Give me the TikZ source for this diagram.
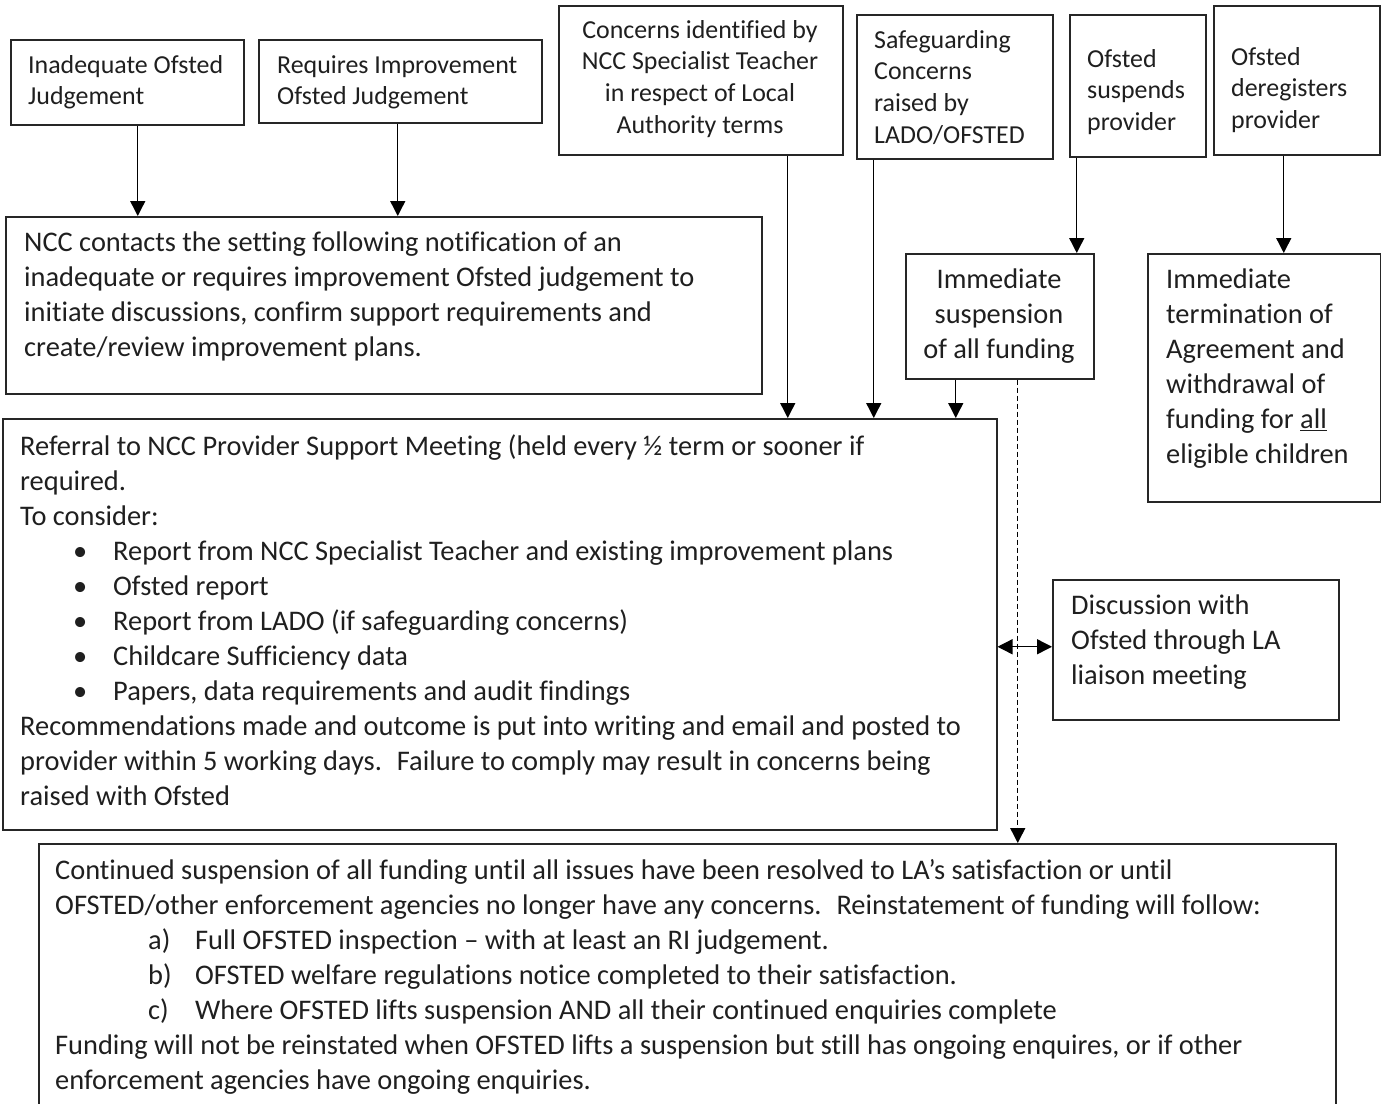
\documentclass[tikz,border=0pt]{standalone}
\usepackage{fontspec}
\setmainfont{Carlito}[Ligatures=NoCommon]
\usetikzlibrary{arrows.meta,calc}
\begin{document}
\begin{tikzpicture}[x=1pt,y=-1pt,
  box/.style={draw=black!85, line width=1.5pt, anchor=north west, inner sep=0pt},
  sm/.style={font=\fontsize{25.9}{31.7}\selectfont, inner sep=0pt, align=left, anchor=north west, text=black!88},
  mn/.style={font=\fontsize{28.4}{35}\selectfont, inner sep=0pt, align=left, anchor=north west, text=black!88},
  arr/.style={line width=1.4pt, draw=black, -{Triangle[length=15pt,width=15pt]}},
  darr/.style={line width=1.4pt, draw=black, {Triangle[length=15pt,width=15pt]}-{Triangle[length=15pt,width=15pt]}},
  dasharr/.style={line width=1.4pt, draw=black, dash pattern=on 5pt off 3pt, -{Triangle[length=15pt,width=15pt]}},
]
\clip (0,0) rectangle (1381,1103);
\fill[white] (0,0) rectangle (1381,1103);

% boxes
\node[box, minimum width=233pt, minimum height=85pt]  (b1)  at (10,39) {};
\node[box, minimum width=283pt, minimum height=83pt]  (b2)  at (258,39) {};
\node[box, minimum width=284pt, minimum height=149pt] (b3)  at (558,5) {};
\node[box, minimum width=196pt, minimum height=144pt] (b4)  at (856,14) {};
\node[box, minimum width=136pt, minimum height=142pt] (b5)  at (1069,14) {};
\node[box, minimum width=166pt, minimum height=149pt] (b6)  at (1213,5) {};
\node[box, minimum width=756pt, minimum height=177pt] (b7)  at (5,216) {};
\node[box, minimum width=188pt, minimum height=125pt] (b8)  at (905,253) {};
\node[box, minimum width=233pt, minimum height=248pt] (b9)  at (1147,253) {};
\node[box, minimum width=994pt, minimum height=411pt] (b10) at (2,418) {};
\node[box, minimum width=286pt, minimum height=140pt] (b11) at (1052,579) {};
\node[box, minimum width=1297pt, minimum height=300pt] (b12) at (38,843) {};

% texts
\node[sm] (t1) at (28,55) {Inadequate Ofsted\\Judgement};
\node[sm] (t2) at (277,55) {Requires Improvement\\Ofsted Judgement};
\node[sm, align=center, anchor=north] (t3) at (700,20) {Concerns identified by\\NCC Specialist Teacher\\in respect of Local\\Authority terms};
\node[sm] (t4) at (874,30) {Safeguarding\\Concerns\\raised by\\LADO/OFSTED};
\node[sm] (t5) at (1087,49) {Ofsted\\suspends\\provider};
\node[sm] (t6) at (1231,47) {Ofsted\\deregisters\\provider};
\node[mn] (t7) at (24,232) {NCC contacts the setting following notification of an\\inadequate or requires improvement Ofsted judgement to\\initiate discussions, confirm support requirements and\\create/review improvement plans.};
\node[mn, align=center, anchor=north] (t8) at (999,269) {Immediate\\suspension\\of all funding};
\node[mn] (t9) at (1166,269) {Immediate\\termination of\\Agreement and\\withdrawal of\\funding for \underline{all}\\eligible children};
\node[mn] (t10) at (20,435) {Referral to NCC Provider Support Meeting (held every ½ term or sooner if\\required.\\To consider:\\
\hspace*{53pt}\makebox[40pt][l]{\textbullet}Report from NCC Specialist Teacher and existing improvement plans\\
\hspace*{53pt}\makebox[40pt][l]{\textbullet}Ofsted report\\
\hspace*{53pt}\makebox[40pt][l]{\textbullet}Report from LADO (if safeguarding concerns)\\
\hspace*{53pt}\makebox[40pt][l]{\textbullet}Childcare Sufficiency data\\
\hspace*{53pt}\makebox[40pt][l]{\textbullet}Papers, data requirements and audit findings\\
Recommendations made and outcome is put into writing and email and posted to\\provider within 5 working days.~ Failure to comply may result in concerns being\\raised with Ofsted};
\node[mn] (t11) at (1071,595) {Discussion with\\Ofsted through LA\\liaison meeting};
\node[mn] (t12) at (55,859) {Continued suspension of all funding until all issues have been resolved to LA’s satisfaction or until\\OFSTED/other enforcement agencies no longer have any concerns.~ Reinstatement of funding will follow:\\
\hspace*{93pt}\makebox[47pt][l]{a)}Full OFSTED inspection -- with at least an RI judgement.\\
\hspace*{93pt}\makebox[47pt][l]{b)}OFSTED welfare regulations notice completed to their satisfaction.\\
\hspace*{93pt}\makebox[47pt][l]{c)}Where OFSTED lifts suspension AND all their continued enquiries complete\\
Funding will not be reinstated when OFSTED lifts a suspension but still has ongoing enquires, or if other\\enforcement agencies have ongoing enquiries.};

% connectors
\draw[arr] ([xshift=10.5pt]b1.south) -- ([xshift=10.5pt]b1.south |- b7.north);
\draw[arr] ([xshift=-2.5pt]b2.south) -- ([xshift=-2.5pt]b2.south |- b7.north);
\draw[arr] ([xshift=87pt]b3.south) -- ([xshift=87pt]b3.south |- b10.north);
\draw[arr] ([xshift=-81pt]b4.south) -- ([xshift=-81pt]b4.south |- b10.north);
\draw[arr] ([xshift=-61pt]b5.south) -- ([xshift=-61pt]b5.south |- b8.north);
\draw[arr] ([xshift=-13pt]b6.south) -- ([xshift=-13pt]b6.south |- b9.north);
\draw[arr] ([xshift=-44pt]b8.south) -- ([xshift=-44pt]b8.south |- b10.north);
\draw[dasharr] ([xshift=18pt]b8.south) -- ([xshift=18pt]b8.south |- b12.north);
\draw[darr] ([yshift=-22.5pt]b10.east) -- ([yshift=-22.5pt]b10.east -| b11.west);
\end{tikzpicture}
\end{document}
